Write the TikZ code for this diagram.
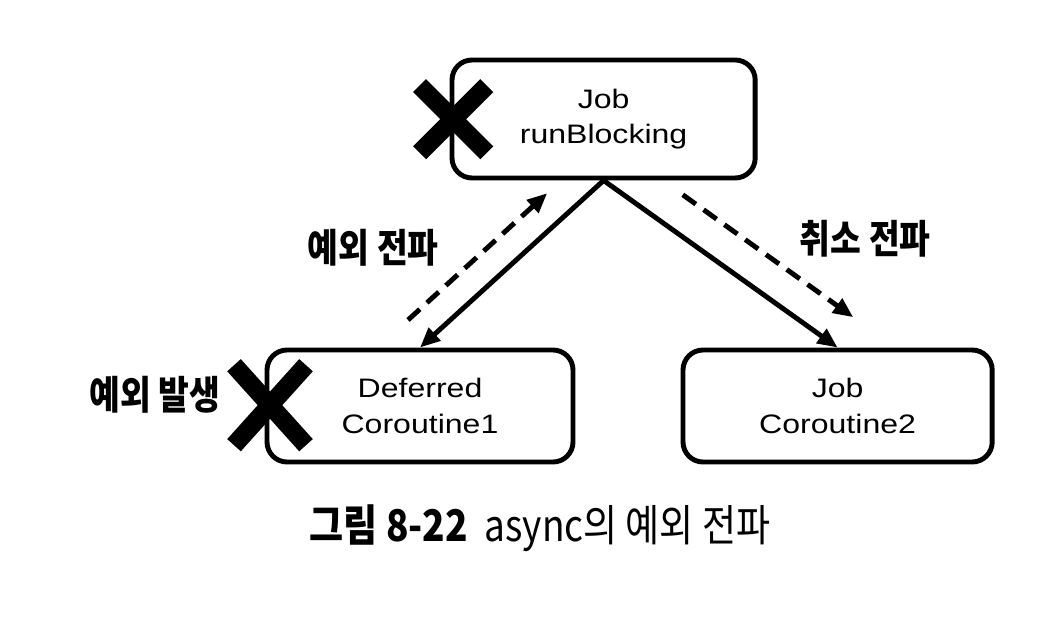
\documentclass[tikz,border=0pt]{standalone}
\usepackage{fontspec}
\setmainfont{Noto Sans CJK KR}
\newfontfamily\krfont[FakeStretch=0.85]{Noto Sans CJK KR}
\newfontfamily\boxfont[FakeStretch=1.2]{Liberation Sans}
\usetikzlibrary{arrows.meta,calc}

\begin{document}
\begin{tikzpicture}[>={Triangle[length=0.5cm,width=0.42cm]}, line width=3.5pt]

    \useasboundingbox (0,0) rectangle (26,15.55);

    \tikzset{
        jobbox/.style={draw, rounded corners=0.5cm, minimum height=2.8cm,
            align=center, font=\boxfont\fontsize{19}{25}\selectfont},
        tag/.style={font=\krfont\fontsize{28}{30}\selectfont\bfseries},
        crossmark/.style={line width=13pt}
    }

    % Jobs
    \node[jobbox, minimum width=7.58cm, minimum height=2.95cm] (top) at (15.09,12.575) {Job\\runBlocking};
    \node[jobbox, minimum width=7.65cm] (child1) at (10.5,5.4) {Deferred\\Coroutine1};
    \node[jobbox, minimum width=7.73cm] (child2) at (20.94,5.4) {Job\\Coroutine2};

    % Parent-child links
    \draw[->] (top.south) -- (child1.north);
    \draw[->] (top.south) -- (child2.north);

    % Propagation (dashed)
    \coordinate (up0) at (10.2,7.55);
    \coordinate (up1) at (13.68,10.72);
    \coordinate (dn0) at (17.07,10.68);
    \coordinate (dn1) at (21.33,7.62);
    \draw[->, dash pattern=on 0.4cm off 0.24cm] (up0) -- (up1);
    \draw[->, dash pattern=on 0.4cm off 0.24cm] (dn0) -- (dn1);

    \node[tag] (lblup) at (9.33,9.35) {예외 전파};
    \node[tag] (lbldn) at (21.63,9.57) {취소 전파};
    \node[tag] (lblerr) at (3.88,5.68) {예외 발생};

    % Crosses
    \draw[crossmark] (11.33,12.57) ++(-0.84,-0.84) -- ++(1.68,1.68);
    \draw[crossmark] (11.33,12.57) ++(-0.84,0.84) -- ++(1.68,-1.68);
    \draw[crossmark] (6.75,5.42) ++(-0.9,-1.0) -- ++(1.8,2.0);
    \draw[crossmark] (6.75,5.42) ++(-0.9,1.0) -- ++(1.8,-2.0);

    % Caption
    \node[font=\krfont\fontsize{31}{34}\selectfont] (caption) at (13.5,2.35) {\textbf{그림 8-22}\ \ async의 예외 전파};

\end{tikzpicture}
\end{document}
